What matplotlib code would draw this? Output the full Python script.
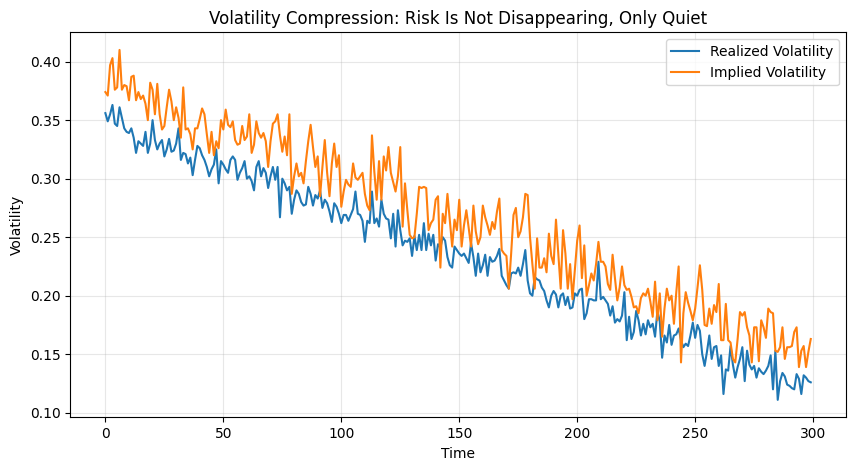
import numpy as np
import matplotlib
matplotlib.use('Agg')
import matplotlib.pyplot as plt

# values, one per time step (0..299)
realized = [
    0.356, 0.349, 0.355, 0.363, 0.347, 0.345, 0.361, 0.352, 0.343, 0.340,
    0.339, 0.343, 0.335, 0.322, 0.332, 0.330, 0.328, 0.340, 0.322, 0.330,
    0.350, 0.333, 0.325, 0.330, 0.333, 0.319, 0.325, 0.334, 0.323, 0.324,
    0.330, 0.343, 0.316, 0.322, 0.321, 0.313, 0.318, 0.303, 0.316, 0.328,
    0.326, 0.320, 0.316, 0.310, 0.302, 0.308, 0.312, 0.325, 0.296, 0.315,
    0.312, 0.308, 0.305, 0.316, 0.319, 0.316, 0.299, 0.305, 0.309, 0.315,
    0.300, 0.302, 0.298, 0.290, 0.310, 0.315, 0.302, 0.309, 0.305, 0.292,
    0.302, 0.310, 0.299, 0.310, 0.267, 0.300, 0.296, 0.290, 0.293, 0.270,
    0.282, 0.290, 0.287, 0.280, 0.277, 0.278, 0.293, 0.287, 0.277, 0.286,
    0.283, 0.290, 0.275, 0.282, 0.279, 0.272, 0.263, 0.279, 0.276, 0.270,
    0.262, 0.269, 0.269, 0.264, 0.269, 0.274, 0.289, 0.270, 0.269, 0.264,
    0.246, 0.264, 0.262, 0.289, 0.262, 0.266, 0.259, 0.282, 0.270, 0.266,
    0.265, 0.249, 0.270, 0.242, 0.273, 0.256, 0.243, 0.247, 0.246, 0.249,
    0.234, 0.251, 0.239, 0.252, 0.239, 0.262, 0.239, 0.253, 0.243, 0.252,
    0.230, 0.244, 0.241, 0.250, 0.247, 0.233, 0.226, 0.224, 0.242, 0.239,
    0.236, 0.234, 0.236, 0.232, 0.228, 0.245, 0.233, 0.217, 0.236, 0.220,
    0.226, 0.235, 0.217, 0.233, 0.229, 0.230, 0.234, 0.240, 0.217, 0.213,
    0.209, 0.206, 0.219, 0.220, 0.219, 0.224, 0.217, 0.227, 0.239, 0.213,
    0.202, 0.200, 0.216, 0.214, 0.213, 0.207, 0.204, 0.196, 0.190, 0.200,
    0.204, 0.201, 0.190, 0.200, 0.202, 0.192, 0.199, 0.189, 0.190, 0.202,
    0.200, 0.205, 0.206, 0.180, 0.185, 0.197, 0.197, 0.196, 0.196, 0.229,
    0.197, 0.199, 0.196, 0.193, 0.183, 0.191, 0.177, 0.180, 0.178, 0.183,
    0.203, 0.162, 0.182, 0.163, 0.169, 0.187, 0.179, 0.166, 0.176, 0.167,
    0.179, 0.173, 0.176, 0.165, 0.187, 0.178, 0.147, 0.166, 0.160, 0.175,
    0.158, 0.166, 0.167, 0.172, 0.162, 0.156, 0.159, 0.157, 0.166, 0.177,
    0.164, 0.175, 0.170, 0.150, 0.140, 0.152, 0.166, 0.146, 0.156, 0.157,
    0.140, 0.149, 0.116, 0.137, 0.136, 0.157, 0.141, 0.130, 0.139, 0.146,
    0.156, 0.127, 0.153, 0.141, 0.137, 0.140, 0.130, 0.138, 0.135, 0.133,
    0.136, 0.140, 0.149, 0.120, 0.153, 0.111, 0.127, 0.134, 0.131, 0.124,
    0.123, 0.121, 0.120, 0.133, 0.129, 0.116, 0.132, 0.130, 0.127, 0.126,
]

implied = [
    0.374, 0.371, 0.397, 0.403, 0.376, 0.378, 0.410, 0.376, 0.380, 0.379,
    0.367, 0.387, 0.388, 0.367, 0.374, 0.368, 0.371, 0.364, 0.350, 0.382,
    0.376, 0.355, 0.381, 0.355, 0.342, 0.345, 0.361, 0.376, 0.366, 0.350,
    0.361, 0.352, 0.335, 0.378, 0.342, 0.343, 0.338, 0.325, 0.343, 0.343,
    0.351, 0.360, 0.355, 0.338, 0.322, 0.340, 0.320, 0.332, 0.326, 0.350,
    0.342, 0.359, 0.346, 0.344, 0.349, 0.333, 0.329, 0.330, 0.345, 0.333,
    0.336, 0.355, 0.322, 0.329, 0.349, 0.339, 0.335, 0.339, 0.332, 0.310,
    0.332, 0.347, 0.349, 0.355, 0.337, 0.323, 0.336, 0.320, 0.355, 0.287,
    0.302, 0.313, 0.302, 0.305, 0.296, 0.315, 0.332, 0.346, 0.327, 0.310,
    0.319, 0.285, 0.310, 0.333, 0.305, 0.285, 0.313, 0.330, 0.310, 0.320,
    0.276, 0.289, 0.299, 0.295, 0.293, 0.313, 0.301, 0.299, 0.302, 0.305,
    0.287, 0.277, 0.273, 0.337, 0.306, 0.282, 0.315, 0.282, 0.319, 0.307,
    0.327, 0.305, 0.297, 0.289, 0.302, 0.327, 0.259, 0.296, 0.273, 0.252,
    0.249, 0.250, 0.270, 0.293, 0.292, 0.293, 0.292, 0.256, 0.262, 0.265,
    0.282, 0.285, 0.224, 0.270, 0.262, 0.287, 0.265, 0.242, 0.265, 0.256,
    0.282, 0.242, 0.260, 0.273, 0.258, 0.242, 0.277, 0.255, 0.244, 0.250,
    0.277, 0.267, 0.260, 0.252, 0.263, 0.257, 0.272, 0.283, 0.239, 0.236,
    0.234, 0.206, 0.236, 0.269, 0.275, 0.250, 0.255, 0.267, 0.287, 0.286,
    0.250, 0.227, 0.206, 0.249, 0.224, 0.224, 0.232, 0.220, 0.253, 0.234,
    0.227, 0.265, 0.236, 0.206, 0.256, 0.236, 0.206, 0.227, 0.197, 0.222,
    0.247, 0.260, 0.215, 0.243, 0.200, 0.209, 0.219, 0.213, 0.227, 0.246,
    0.229, 0.229, 0.225, 0.210, 0.205, 0.235, 0.215, 0.196, 0.207, 0.225,
    0.209, 0.205, 0.206, 0.199, 0.190, 0.191, 0.185, 0.198, 0.202, 0.200,
    0.206, 0.195, 0.182, 0.212, 0.179, 0.202, 0.165, 0.189, 0.206, 0.196,
    0.200, 0.176, 0.203, 0.225, 0.143, 0.185, 0.203, 0.194, 0.187, 0.179,
    0.189, 0.207, 0.226, 0.205, 0.175, 0.174, 0.189, 0.176, 0.192, 0.186,
    0.210, 0.162, 0.162, 0.193, 0.162, 0.160, 0.146, 0.143, 0.163, 0.186,
    0.183, 0.186, 0.173, 0.166, 0.143, 0.173, 0.173, 0.144, 0.179, 0.173,
    0.164, 0.189, 0.186, 0.185, 0.153, 0.152, 0.156, 0.173, 0.146, 0.156,
    0.156, 0.157, 0.169, 0.173, 0.139, 0.153, 0.157, 0.139, 0.152, 0.163,
]

time = np.arange(len(realized))

fig, ax = plt.subplots(figsize=(8.55, 4.7), dpi=100)
ax.plot(time, realized, label='Realized Volatility')
ax.plot(time, implied, label='Implied Volatility')
ax.set_title('Volatility Compression: Risk Is Not Disappearing, Only Quiet')
ax.set_xlabel('Time')
ax.set_ylabel('Volatility')
ax.legend()
ax.grid(True, alpha=0.3)

# axes box placed to match the reference pixel edges
plt.subplots_adjust(left=0.082, right=0.9895, top=0.931, bottom=0.112)
plt.savefig('out.png')
